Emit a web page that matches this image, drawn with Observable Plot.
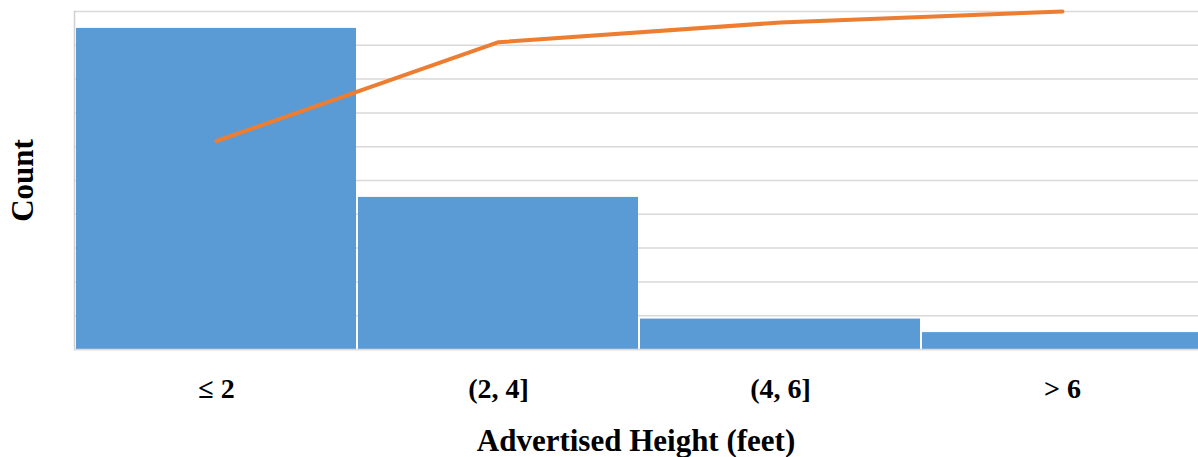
<!DOCTYPE html>
<html>
<head>
<meta charset="utf-8">
<script src="https://cdn.jsdelivr.net/npm/d3@7"></script>
<script src="https://cdn.jsdelivr.net/npm/@observablehq/plot@0.6"></script>
<style>
  html, body { margin: 0; background: #fff; overflow: hidden; }
  svg { display: block; max-width: none !important; }
</style>
</head>
<body>
<div id="chart"></div>
<script>
// Height bins and their counts
const categories = ["≤ 2", "(2, 4]", "(4, 6]", "> 6"];
const counts = [95, 45, 9, 5];
// Horizontal gridlines (hidden value axis)
const gridTicks = [0, 10, 20, 30, 40, 50, 60, 70, 80, 90, 100];

// Cumulative share of all observations, in percent
const total = d3.sum(counts);
const cumulativePct = Array.from(d3.cumsum(counts), (c) => (c / total) * 100);

const rows = categories.map((bin, i) => ({bin, count: counts[i], cum: cumulativePct[i]}));

const serif = "'Liberation Serif', 'Times New Roman', serif";

// The plot area runs slightly past the right edge of the window
const chart = Plot.plot({
  width: 1203,
  height: 457,
  marginLeft: 74,
  marginRight: 0,
  marginTop: 11,
  marginBottom: 108,
  style: {fontFamily: serif, background: "#fff", color: "#000"},
  x: {domain: categories, padding: 0, axis: null},
  y: {domain: [0, 100], axis: null},
  marks: [
    Plot.ruleY(gridTicks, {stroke: "#d9d9d9", strokeWidth: 1.5}),
    Plot.frame({anchor: "left", stroke: "#d0d0d0", strokeWidth: 1.5}),
    Plot.barY(rows, {x: "bin", y: "count", fill: "#5B9BD5", insetLeft: 1, insetRight: 1}),
    Plot.ruleY([0], {stroke: "#d9d9d9", strokeWidth: 1.5}),
    Plot.lineY(rows, {x: "bin", y: "cum", stroke: "#ED7D31", strokeWidth: 4, strokeLinecap: "round"}),
    // Category labels under each bar
    Plot.text(rows, {x: "bin", text: "bin", frameAnchor: "bottom", lineAnchor: "middle", dy: 40, fontSize: 28, fontWeight: "bold", fill: "#000"}),
    // Axis titles
    Plot.text(["Advertised Height (feet)"], {frameAnchor: "bottom", lineAnchor: "middle", dy: 92, dx: -3, fontSize: 31, fontWeight: "bold", fill: "#000"}),
    Plot.text(["Count"], {frameAnchor: "left", textAnchor: "middle", lineAnchor: "middle", dx: -51, rotate: -90, fontSize: 31, fontWeight: "bold", fill: "#000"})
  ]
});

document.getElementById("chart").append(chart);
</script>
</body>
</html>
